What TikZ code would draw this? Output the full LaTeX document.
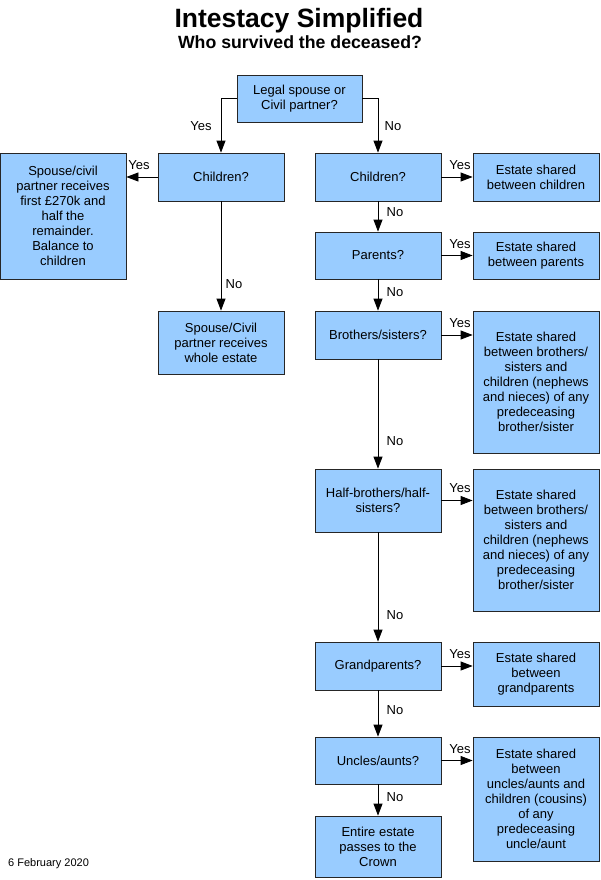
\documentclass[tikz,border=0pt]{standalone}
\usepackage{fontspec}
\setmainfont{Liberation Sans}
\usetikzlibrary{arrows.meta}
\definecolor{boxblue}{RGB}{153,204,255}
\tikzset{
  box/.style={draw=black!85, line width=0.8pt, fill=boxblue, minimum width=126pt, align=center, inner sep=2pt,
    font=\fontsize{13}{15}\selectfont},
  arr/.style={line width=0.8pt, -{Triangle[length=12pt,width=9pt]}},
  lbl/.style={font=\fontsize{13}{15}\selectfont, inner sep=0pt}
}
\begin{document}
\begin{tikzpicture}[x=1pt,y=-1pt]
\useasboundingbox (0,0) rectangle (600,880);
\node[font=\bfseries\fontsize{26.5}{30}\selectfont, anchor=base, inner sep=0pt] (title) at (299,27.5) {Intestacy Simplified};
\node[font=\bfseries\fontsize{17.7}{20}\selectfont, anchor=base, inner sep=0pt] (sub) at (300,48.5) {Who survived the deceased?};

\node[box, minimum width=125pt, minimum height=47pt] (top) at (299.5,98.5) {Legal spouse or\\Civil partner?};

% left column
\node[box, minimum height=48pt] (lc) at (221,177) {Children?};
\node[box, minimum height=126pt] (sp) at (63,216) {Spouse/civil\\partner receives\\first £270k and\\half the\\remainder.\\Balance to\\children};
\node[box, minimum height=63pt] (we) at (221,342.5) {Spouse/Civil\\partner receives\\whole estate};

% right column questions
\node[box, minimum height=48pt] (rc) at (378,177) {Children?};
\node[box, minimum height=47pt] (par) at (378,255.5) {Parents?};
\node[box, minimum height=48pt] (bs) at (378,335) {Brothers/sisters?};
\node[box, minimum height=63pt] (hb) at (378,500.5) {Half-brothers/half-\\sisters?};
\node[box, minimum height=48pt] (gp) at (378,666) {Grandparents?};
\node[box, minimum height=47pt] (ua) at (378,760.5) {Uncles/aunts?};
\node[box, minimum height=61pt] (cr) at (378,846.5) {Entire estate\\passes to the\\Crown};

% right column outcomes
\node[box, minimum height=48pt] (ec) at (536,177) {Estate shared\\between children};
\node[box, minimum height=47pt] (ep) at (536,255.5) {Estate shared\\between parents};
\node[box, minimum height=142pt] (eb) at (536,382) {Estate shared\\between brothers/\\sisters and\\children (nephews\\and nieces) of any\\predeceasing\\brother/sister};
\node[box, minimum height=142pt] (eh) at (536,540) {Estate shared\\between brothers/\\sisters and\\children (nephews\\and nieces) of any\\predeceasing\\brother/sister};
\node[box, minimum height=64pt] (eg) at (536,674) {Estate shared\\between\\grandparents};
\node[box, minimum height=124pt] (eu) at (536,799) {Estate shared\\between\\uncles/aunts and\\children (cousins)\\of any\\predeceasing\\uncle/aunt};

% connectors
\draw[arr] (top.west) -| (lc.north);
\draw[arr] (top.east) -| (rc.north);
\draw[arr] (lc.west) -- (lc.west -| sp.east);
\draw[arr] (lc.south) -- (we.north);
\draw[arr] (rc.east) -- (ec.west);
\draw[arr] (par.east) -- (ep.west);
\draw[arr] (bs.east) -- (bs.east -| eb.west);
\draw[arr] (hb.east) -- (hb.east -| eh.west);
\draw[arr] (gp.east) -- (gp.east -| eg.west);
\draw[arr] (ua.east) -- (ua.east -| eu.west);
\draw[arr] (rc.south) -- (par.north);
\draw[arr] (par.south) -- (bs.north);
\draw[arr] (bs.south) -- (hb.north);
\draw[arr] (hb.south) -- (gp.north);
\draw[arr] (gp.south) -- (ua.north);
\draw[arr] (ua.south) -- (cr.north);

% labels
\node[lbl] (l1) at (201,126) {Yes};
\node[lbl] (l2) at (393,126) {No};
\node[lbl] (l3) at (139,165) {Yes};
\node[lbl] (l4) at (234,284) {No};
\node[lbl] (l5) at (460,165) {Yes};
\node[lbl] (l6) at (395,212) {No};
\node[lbl] (l7) at (460,244) {Yes};
\node[lbl] (l8) at (395,292) {No};
\node[lbl] (l9) at (460,323) {Yes};
\node[lbl] (l10) at (395,441) {No};
\node[lbl] (l11) at (460,488) {Yes};
\node[lbl] (l12) at (395,615) {No};
\node[lbl] (l13) at (460,654) {Yes};
\node[lbl] (l14) at (395,710) {No};
\node[lbl] (l15) at (460,749) {Yes};
\node[lbl] (l16) at (395,797) {No};

\node[font=\fontsize{11}{13}\selectfont, anchor=west, inner sep=0pt] (date) at (8,864) {6 February 2020};
\end{tikzpicture}
\end{document}
